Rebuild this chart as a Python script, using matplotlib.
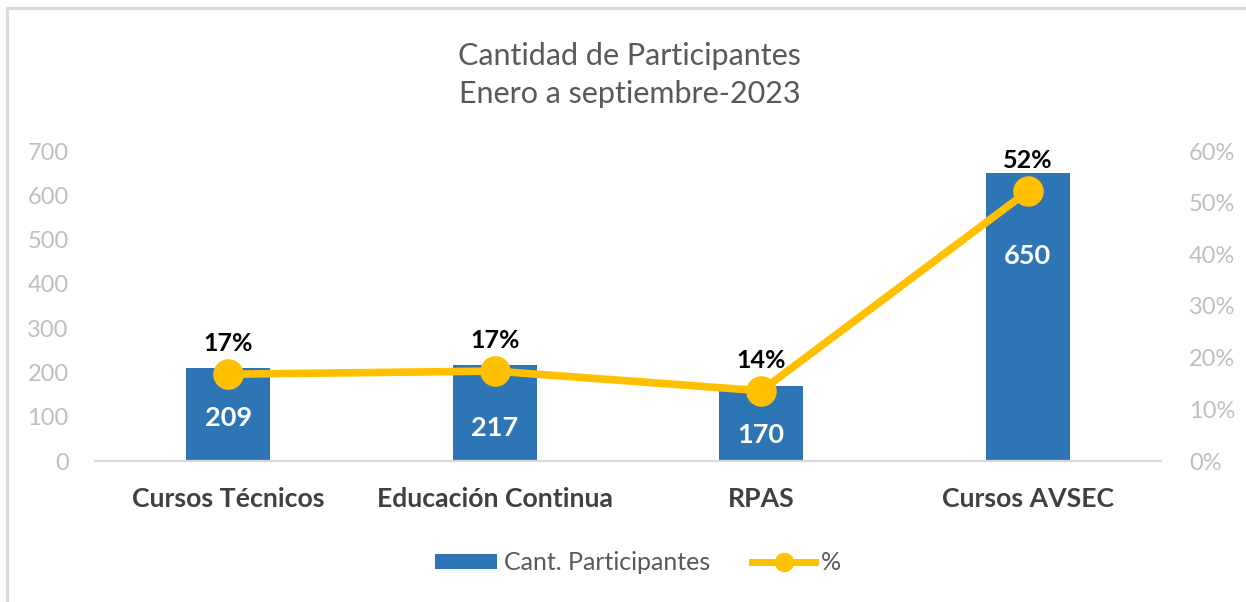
import matplotlib
matplotlib.use("Agg")
import matplotlib.pyplot as plt
from matplotlib.patches import Rectangle
from matplotlib.lines import Line2D
from matplotlib.patches import Patch

categories = ["Cursos Técnicos", "Educación Continua", "RPAS", "Cursos AVSEC"]
participants = [209, 217, 170, 650]
percent = [16.8, 17.4, 13.6, 52.2]
percent_labels = ["17%", "17%", "14%", "52%"]
title = "Cantidad de Participantes\nEnero a septiembre-2023"
left_ticks = [0, 100, 200, 300, 400, 500, 600, 700]
right_ticks = [0, 10, 20, 30, 40, 50, 60]

# label placement inside bars (data units), as in the reference
bar_label_y = [97, 74, 59, 463]

FONT = "Lato"
BLUE = "#2E75B6"
GOLD = "#FFC000"
TICK = "#BFBFBF"

fig = plt.figure(figsize=(12.46, 6.02), dpi=100)
fig.patch.set_facecolor("white")
ax = fig.add_axes([95/1246, 1-461/602, (1161-95)/1246, (461-151)/602])
x = list(range(len(categories)))
ax.bar(x, participants, width=0.315, color=BLUE, zorder=2)
ax.set_xlim(-0.5, len(categories)-0.5)
ax.set_ylim(0, 700)
ax.set_yticks(left_ticks)
ax.set_yticklabels([str(t) for t in left_ticks], fontsize=17, color=TICK, family=FONT)
ax.set_xticks(x)
ax.set_xticklabels(categories, fontsize=19.2, fontweight="bold", color="#404040", family=FONT)
ax.tick_params(axis="y", length=0, pad=19)
ax.tick_params(axis="x", length=0, pad=19)
for s in ["top", "right", "left"]:
    ax.spines[s].set_visible(False)
ax.spines["bottom"].set_color("#D9D9D9")
ax.spines["bottom"].set_linewidth(1.6)

for xi, v, ly in zip(x, participants, bar_label_y):
    ax.text(xi, ly, str(v), ha="center", va="center", color="white",
            fontsize=19.5, fontweight="bold", family=FONT, zorder=5)

ax2 = ax.twinx()
ax2.set_ylim(0, 60)
ax2.plot(x, percent, color=GOLD, lw=5.5, marker="o", markersize=21, zorder=3)
ax2.set_yticks(right_ticks)
ax2.set_yticklabels([f"{t}%" for t in right_ticks], fontsize=17, color=TICK, family=FONT)
ax2.tick_params(axis="y", length=0, pad=20)
for s in ["top", "right", "left", "bottom"]:
    ax2.spines[s].set_visible(False)
for xi, p, lab in zip(x, percent, percent_labels):
    ax2.annotate(lab, (xi, p), xytext=(0, 22), textcoords="offset points",
                 ha="center", va="center", fontsize=18, fontweight="bold",
                 color="black", family=FONT, zorder=6)

fig.text(0.5055, 1-75/602, title, ha="center", va="center", fontsize=22,
         color="#595959", family=FONT, linespacing=1.45)

handles = [Patch(facecolor=BLUE, edgecolor="none"),
           Line2D([0], [0], color=GOLD, lw=5, marker="o", markersize=13)]
fig.legend(handles, ["Cant. Participantes", "%"], loc="center",
           bbox_to_anchor=(638/1246, 1-563/602), ncol=2, frameon=False,
           prop={"family": FONT, "size": 18}, labelcolor="#595959",
           handlelength=2.5, handleheight=0.55, columnspacing=1.7, handletextpad=0.25)

fig.patches.append(Rectangle((7/1246, -0.1), 1.2, 1 - 8/602 + 0.1, transform=fig.transFigure,
                             fill=False, edgecolor="#D9D9D9", lw=2.2, clip_on=False))

fig.savefig("out.png", dpi=100, facecolor="white")
